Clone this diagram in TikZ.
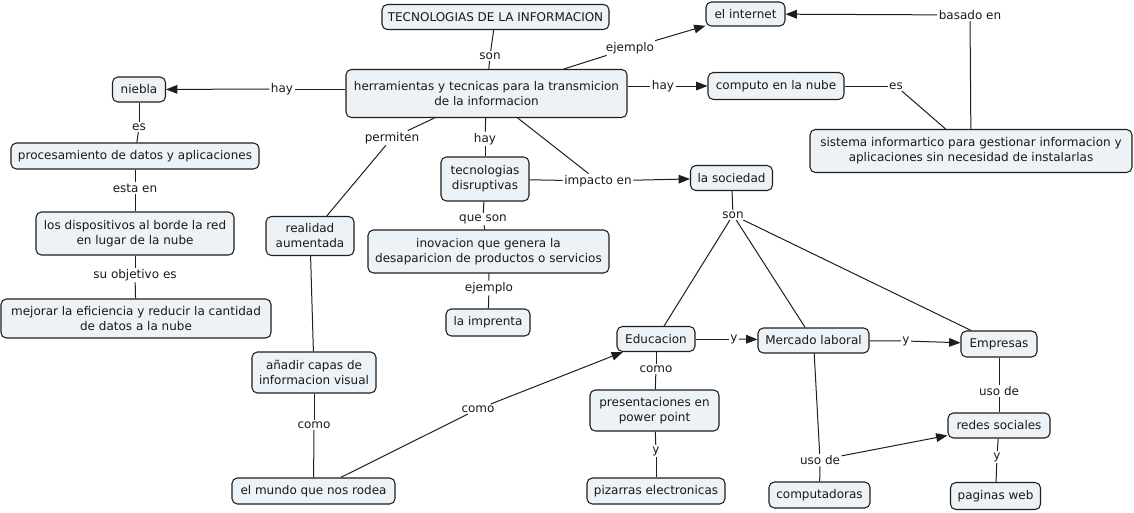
\documentclass[tikz,border=0pt]{standalone}
\usepackage{fontspec}
\setmainfont{DejaVu Sans}
\usetikzlibrary{arrows.meta}
\definecolor{cmapfill}{RGB}{236,242,245}
\definecolor{cmapline}{RGB}{30,30,30}
\tikzset{
  concept/.style={draw=cmapline, fill=cmapfill, line width=0.8pt, rounded corners=4pt,
    align=center, inner sep=1pt, text=black!90},
  phrase/.style={inner sep=1pt, text=black!90},
  link/.style={draw=cmapline, line width=0.75pt},
  linkto/.style={link, -{Triangle[length=8.5pt,width=6.5pt]}}
}
\begin{document}
\begin{tikzpicture}[x=0.75pt, y=-0.75pt, font=\fontsize{9}{11.25}\selectfont]
        \useasboundingbox (0,0) rectangle (1134,512);
        % concepts
        \node[concept, minimum width=170.25pt, minimum height=18.75pt] (tec) at (495.5,17) {TECNOLOGIAS DE LA INFORMACION};
        \node[concept, minimum width=210.75pt, minimum height=36pt] (herr) at (486.5,93.5) {herramientas y tecnicas para la transmicion\\de la informacion};
        \node[concept, minimum width=39.75pt, minimum height=18.75pt] (niebla) at (139,89.5) {niebla};
        \node[concept, minimum width=186pt, minimum height=19.5pt] (proc) at (135,156) {procesamiento de datos y aplicaciones};
        \node[concept, minimum width=148.5pt, minimum height=32.25pt] (disp) at (135,233.5) {los dispositivos al borde la red\\en lugar de la nube};
        \node[concept, minimum width=202.5pt, minimum height=29.25pt] (mejor) at (136,318.5) {mejorar la eficiencia y reducir la cantidad\\de datos a la nube};
        \node[concept, minimum width=66pt, minimum height=29.25pt] (realidad) at (310,236) {realidad\\aumentada};
        \node[concept, minimum width=93pt, minimum height=30.75pt] (anadir) at (314,372.5) {añadir capas de\\informacion visual};
        \node[concept, minimum width=122.25pt, minimum height=19.5pt] (mundo) at (313.5,491) {el mundo que nos rodea};
        \node[concept, minimum width=66pt, minimum height=33pt] (tecdis) at (485,179) {tecnologias\\disruptivas};
        \node[concept, minimum width=180.75pt, minimum height=32.25pt] (inov) at (488.5,251.5) {inovacion que genera la\\desaparicion de productos o servicios};
        \node[concept, minimum width=63pt, minimum height=20.25pt] (impr) at (488,322.5) {la imprenta};
        \node[concept, minimum width=59.25pt, minimum height=18pt] (internet) at (745.5,14) {el internet};
        \node[concept, minimum width=102pt, minimum height=20.25pt] (computo) at (776,86) {computo en la nube};
        \node[concept, minimum width=241.5pt, minimum height=32.25pt] (sistema) at (971,151) {sistema informartico para gestionar informacion y\\aplicaciones sin necesidad de instalarlas};
        \node[concept, minimum width=61.5pt, minimum height=18.75pt] (sociedad) at (731.5,178) {la sociedad};
        \node[concept, minimum width=58.5pt, minimum height=18.75pt] (educ) at (656,339) {Educacion};
        \node[concept, minimum width=83.25pt, minimum height=18.75pt] (merc) at (813.5,340.5) {Mercado laboral};
        \node[concept, minimum width=57pt, minimum height=19.5pt] (emp) at (999,344) {Empresas};
        \node[concept, minimum width=96.75pt, minimum height=30.75pt] (pres) at (654.5,410.5) {presentaciones en\\power point};
        \node[concept, minimum width=103.5pt, minimum height=19.5pt] (piz) at (656,491) {pizarras electronicas};
        \node[concept, minimum width=75.75pt, minimum height=19.5pt] (comp) at (819.5,495) {computadoras};
        \node[concept, minimum width=76.5pt, minimum height=18.75pt] (redes) at (999,425.5) {redes sociales};
        \node[concept, minimum width=67.5pt, minimum height=20.25pt] (pag) at (995.5,496) {paginas web};
        % linking phrases
        \node[phrase] (son1) at (490,56) {son};
        \node[phrase] (ejemplo1) at (630,48) {ejemplo};
        \node[phrase] (hay1) at (282,89) {hay};
        \node[phrase] (hay2) at (663,86) {hay};
        \node[phrase] (permiten) at (392,138) {permiten};
        \node[phrase] (hay3) at (485,139) {hay};
        \node[phrase] (impacto) at (598,181) {impacto en};
        \node[phrase] (es1) at (139,127) {es};
        \node[phrase] (estaen) at (135,188) {esta en};
        \node[phrase] (suobj) at (135,275) {su objetivo es};
        \node[phrase] (es2) at (896,86) {es};
        \node[phrase] (basado) at (970,15) {basado en};
        \node[phrase] (queson) at (483,219) {que son};
        \node[phrase] (ejemplo2) at (489,288) {ejemplo};
        \node[phrase] (son2) at (733,215) {son};
        \node[phrase] (como1) at (314,425) {como};
        \node[phrase] (como2) at (478,409) {como};
        \node[phrase] (y1) at (734,339) {y};
        \node[phrase] (y2) at (906,341) {y};
        \node[phrase] (como3) at (656,369) {como};
        \node[phrase] (y3) at (656,451) {y};
        \node[phrase] (usode1) at (820,460) {uso de};
        \node[phrase] (usode2) at (999,391) {uso de};
        \node[phrase] (y4) at (997,457) {y};
        % links
        \draw[link] (tec) -- (son1);
        \draw[link] (son1) -- (herr);
        \draw[link] (herr) -- (ejemplo1);
        \draw[linkto] (ejemplo1) -- (internet);
        \draw[link] (herr.west |- hay1) -- (hay1);
        \draw[linkto] (hay1) -- (niebla);
        \draw[link] (herr.east |- hay2) -- (hay2);
        \draw[linkto] (hay2) -- (computo);
        \draw[link] (herr) -- (permiten);
        \draw[link] (permiten) -- (realidad);
        \draw[link] (herr) -- (hay3);
        \draw[link] (hay3) -- (tecdis);
        \draw[link] (herr) -- (impacto);
        \draw[link] (tecdis) -- (impacto);
        \draw[linkto] (impacto) -- (sociedad);
        \draw[link] (niebla) -- (es1);
        \draw[link] (es1) -- (proc);
        \draw[link] (proc) -- (estaen);
        \draw[link] (estaen) -- (disp);
        \draw[link] (disp) -- (suobj);
        \draw[link] (suobj) -- (mejor);
        \draw[link] (computo) -- (es2);
        \draw[link] (es2) -- (sistema);
        \draw[link] (sistema) -- (basado);
        \draw[linkto] (basado) -- (internet);
        \draw[link] (tecdis) -- (queson);
        \draw[link] (queson) -- (inov);
        \draw[link] (inov) -- (ejemplo2);
        \draw[link] (ejemplo2) -- (impr);
        \draw[link] (realidad) -- (anadir);
        \draw[link] (anadir) -- (como1);
        \draw[link] (como1) -- (mundo);
        \draw[link] (mundo) -- (como2);
        \draw[linkto] (como2) -- (educ);
        \draw[link] (sociedad) -- (son2);
        \draw[link] (son2) -- (educ);
        \draw[link] (son2) -- (merc);
        \draw[link] (son2) -- (emp);
        \draw[link] (educ) -- (y1);
        \draw[linkto] (y1) -- (merc);
        \draw[link] (merc) -- (y2);
        \draw[linkto] (y2) -- (emp);
        \draw[link] (educ) -- (como3);
        \draw[link] (como3) -- (pres);
        \draw[link] (pres) -- (y3);
        \draw[link] (y3) -- (piz);
        \draw[link] (merc) -- (usode1);
        \draw[link] (usode1) -- (comp);
        \draw[linkto] (usode1) -- (redes);
        \draw[link] (emp) -- (usode2);
        \draw[link] (usode2) -- (redes);
        \draw[link] (redes) -- (y4);
        \draw[link] (y4) -- (pag);
    \end{tikzpicture}
\end{document}
